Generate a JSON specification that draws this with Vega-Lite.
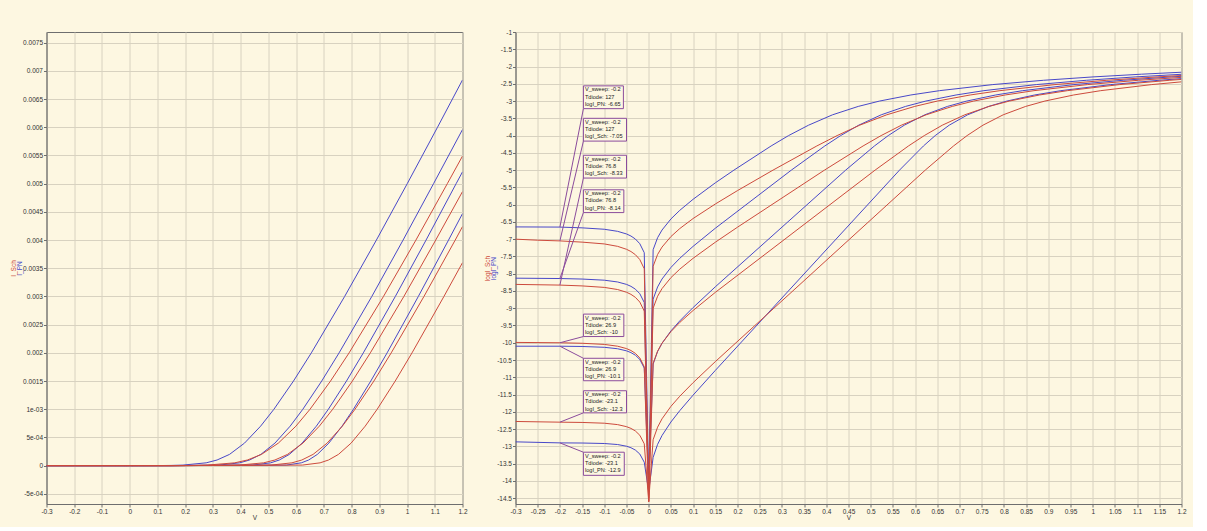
{
  "$schema": "https://vega.github.io/schema/vega-lite/v6.json",
  "background": "#fdf7e1",
  "padding": {"left": 9.5, "top": 28, "right": 5, "bottom": 5},
  "config": {
    "view": {"stroke": "#6e6e6e", "strokeWidth": 1},
    "font": "Liberation Sans",
    "axis": {"labelFont": "Liberation Sans", "labelFontSize": 6.5, "labelColor": "#333333", "gridColor": "#d8d2c0", "gridOpacity": 1, "gridWidth": 1, "domainColor": "#6e6e6e", "tickColor": "#6e6e6e", "tickSize": 3, "labelPadding": 1, "titleFont": "Liberation Sans", "titleFontSize": 6.5, "titleFontWeight": "normal", "titleColor": "#333333", "labelOverlap": false, "labelFlush": false, "titlePadding": 0}
  },
  "datasets": {
    "curves": [
      {"c":"PN127","s":"PN","V":-0.3,"L":-6.645,"I":-2.3e-7},
      {"c":"PN127","s":"PN","V":-0.2,"L":-6.65,"I":-2.2e-7},
      {"c":"PN127","s":"PN","V":-0.15,"L":-6.672,"I":-2.1e-7},
      {"c":"PN127","s":"PN","V":-0.1,"L":-6.713,"I":-1.9e-7},
      {"c":"PN127","s":"PN","V":-0.07,"L":-6.773,"I":-1.7e-7},
      {"c":"PN127","s":"PN","V":-0.05,"L":-6.849,"I":-1.4e-7},
      {"c":"PN127","s":"PN","V":-0.04,"L":-6.909,"I":-1.2e-7},
      {"c":"PN127","s":"PN","V":-0.03,"L":-6.996,"I":-1.0e-7},
      {"c":"PN127","s":"PN","V":-0.02,"L":-7.132,"I":-7.4e-8},
      {"c":"PN127","s":"PN","V":-0.01,"L":-7.392,"I":-4.1e-8},
      {"c":"PN127","s":"PN","V":0,"L":-14.2,"I":0},
      {"c":"PN127","s":"PN","V":0.01,"L":-7.305,"I":5.0e-8},
      {"c":"PN127","s":"PN","V":0.02,"L":-6.958,"I":1.1e-7},
      {"c":"PN127","s":"PN","V":0.03,"L":-6.735,"I":1.8e-7},
      {"c":"PN127","s":"PN","V":0.05,"L":-6.415,"I":3.8e-7},
      {"c":"PN127","s":"PN","V":0.07,"L":-6.165,"I":6.8e-7},
      {"c":"PN127","s":"PN","V":0.1,"L":-5.845,"I":1.4e-6},
      {"c":"PN127","s":"PN","V":0.15,"L":-5.369,"I":4.3e-6},
      {"c":"PN127","s":"PN","V":0.192,"L":-5,"I":1e-5},
      {"c":"PN127","s":"PN","V":0.2757,"L":-4.301,"I":5e-5},
      {"c":"PN127","s":"PN","V":0.315,"L":-4,"I":1e-4},
      {"c":"PN127","s":"PN","V":0.36,"L":-3.699,"I":2e-4},
      {"c":"PN127","s":"PN","V":0.414,"L":-3.398,"I":4e-4},
      {"c":"PN127","s":"PN","V":0.472,"L":-3.155,"I":7e-4},
      {"c":"PN127","s":"PN","V":0.52,"L":-3,"I":1e-3},
      {"c":"PN127","s":"PN","V":0.5905,"L":-2.824,"I":1.5e-3},
      {"c":"PN127","s":"PN","V":0.655,"L":-2.699,"I":2e-3},
      {"c":"PN127","s":"PN","V":0.775,"L":-2.523,"I":3e-3},
      {"c":"PN127","s":"PN","V":0.8895,"L":-2.398,"I":4e-3},
      {"c":"PN127","s":"PN","V":1.0007,"L":-2.301,"I":5e-3},
      {"c":"PN127","s":"PN","V":1.1098,"L":-2.222,"I":6e-3},
      {"c":"PN127","s":"PN","V":1.2,"L":-2.165,"I":6.84e-3},

      {"c":"Sch127","s":"Sch","V":-0.3,"L":-7.0,"I":-1.0e-7},
      {"c":"Sch127","s":"Sch","V":-0.25,"L":-7.03,"I":-9.3e-8},
      {"c":"Sch127","s":"Sch","V":-0.2,"L":-7.05,"I":-8.9e-8},
      {"c":"Sch127","s":"Sch","V":-0.15,"L":-7.086,"I":-8.2e-8},
      {"c":"Sch127","s":"Sch","V":-0.1,"L":-7.138,"I":-7.3e-8},
      {"c":"Sch127","s":"Sch","V":-0.07,"L":-7.208,"I":-6.2e-8},
      {"c":"Sch127","s":"Sch","V":-0.05,"L":-7.293,"I":-5.1e-8},
      {"c":"Sch127","s":"Sch","V":-0.04,"L":-7.358,"I":-4.4e-8},
      {"c":"Sch127","s":"Sch","V":-0.03,"L":-7.449,"I":-3.6e-8},
      {"c":"Sch127","s":"Sch","V":-0.02,"L":-7.591,"I":-2.6e-8},
      {"c":"Sch127","s":"Sch","V":-0.01,"L":-7.857,"I":-1.4e-8},
      {"c":"Sch127","s":"Sch","V":0,"L":-14.6,"I":0},
      {"c":"Sch127","s":"Sch","V":0.01,"L":-7.784,"I":1.6e-8},
      {"c":"Sch127","s":"Sch","V":0.02,"L":-7.444,"I":3.6e-8},
      {"c":"Sch127","s":"Sch","V":0.03,"L":-7.229,"I":5.9e-8},
      {"c":"Sch127","s":"Sch","V":0.05,"L":-6.925,"I":1.2e-7},
      {"c":"Sch127","s":"Sch","V":0.07,"L":-6.693,"I":2.0e-7},
      {"c":"Sch127","s":"Sch","V":0.1,"L":-6.402,"I":4.0e-7},
      {"c":"Sch127","s":"Sch","V":0.15,"L":-5.982,"I":1.0e-6},
      {"c":"Sch127","s":"Sch","V":0.2,"L":-5.593,"I":2.6e-6},
      {"c":"Sch127","s":"Sch","V":0.28,"L":-5,"I":1e-5},
      {"c":"Sch127","s":"Sch","V":0.3786,"L":-4.301,"I":5e-5},
      {"c":"Sch127","s":"Sch","V":0.4244,"L":-4,"I":1e-4},
      {"c":"Sch127","s":"Sch","V":0.4752,"L":-3.699,"I":2e-4},
      {"c":"Sch127","s":"Sch","V":0.5361,"L":-3.398,"I":4e-4},
      {"c":"Sch127","s":"Sch","V":0.5992,"L":-3.155,"I":7e-4},
      {"c":"Sch127","s":"Sch","V":0.6502,"L":-3,"I":1e-3},
      {"c":"Sch127","s":"Sch","V":0.7241,"L":-2.824,"I":1.5e-3},
      {"c":"Sch127","s":"Sch","V":0.7911,"L":-2.699,"I":2e-3},
      {"c":"Sch127","s":"Sch","V":0.915,"L":-2.523,"I":3e-3},
      {"c":"Sch127","s":"Sch","V":1.032,"L":-2.398,"I":4e-3},
      {"c":"Sch127","s":"Sch","V":1.1452,"L":-2.301,"I":5e-3},
      {"c":"Sch127","s":"Sch","V":1.2,"L":-2.2604,"I":5.49e-3},

      {"c":"PN76.8","s":"PN","V":-0.3,"L":-8.13,"I":-7.4e-9},
      {"c":"PN76.8","s":"PN","V":-0.2,"L":-8.14,"I":-7.2e-9},
      {"c":"PN76.8","s":"PN","V":-0.15,"L":-8.155,"I":-7.0e-9},
      {"c":"PN76.8","s":"PN","V":-0.1,"L":-8.188,"I":-6.5e-9},
      {"c":"PN76.8","s":"PN","V":-0.07,"L":-8.24,"I":-5.8e-9},
      {"c":"PN76.8","s":"PN","V":-0.05,"L":-8.31,"I":-4.9e-9},
      {"c":"PN76.8","s":"PN","V":-0.04,"L":-8.366,"I":-4.3e-9},
      {"c":"PN76.8","s":"PN","V":-0.03,"L":-8.448,"I":-3.6e-9},
      {"c":"PN76.8","s":"PN","V":-0.02,"L":-8.58,"I":-2.6e-9},
      {"c":"PN76.8","s":"PN","V":-0.01,"L":-8.835,"I":-1.5e-9},
      {"c":"PN76.8","s":"PN","V":0,"L":-14.3,"I":0},
      {"c":"PN76.8","s":"PN","V":0.01,"L":-8.737,"I":1.8e-9},
      {"c":"PN76.8","s":"PN","V":0.02,"L":-8.384,"I":4.1e-9},
      {"c":"PN76.8","s":"PN","V":0.03,"L":-8.154,"I":7.0e-9},
      {"c":"PN76.8","s":"PN","V":0.05,"L":-7.82,"I":1.5e-8},
      {"c":"PN76.8","s":"PN","V":0.07,"L":-7.554,"I":2.8e-8},
      {"c":"PN76.8","s":"PN","V":0.1,"L":-7.208,"I":6.2e-8},
      {"c":"PN76.8","s":"PN","V":0.15,"L":-6.684,"I":2.1e-7},
      {"c":"PN76.8","s":"PN","V":0.3213,"L":-5,"I":1e-5},
      {"c":"PN76.8","s":"PN","V":0.3966,"L":-4.301,"I":5e-5},
      {"c":"PN76.8","s":"PN","V":0.4323,"L":-4,"I":1e-4},
      {"c":"PN76.8","s":"PN","V":0.473,"L":-3.699,"I":2e-4},
      {"c":"PN76.8","s":"PN","V":0.5237,"L":-3.398,"I":4e-4},
      {"c":"PN76.8","s":"PN","V":0.5785,"L":-3.155,"I":7e-4},
      {"c":"PN76.8","s":"PN","V":0.6243,"L":-3,"I":1e-3},
      {"c":"PN76.8","s":"PN","V":0.6923,"L":-2.824,"I":1.5e-3},
      {"c":"PN76.8","s":"PN","V":0.755,"L":-2.699,"I":2e-3},
      {"c":"PN76.8","s":"PN","V":0.873,"L":-2.523,"I":3e-3},
      {"c":"PN76.8","s":"PN","V":0.9857,"L":-2.398,"I":4e-3},
      {"c":"PN76.8","s":"PN","V":1.0956,"L":-2.301,"I":5e-3},
      {"c":"PN76.8","s":"PN","V":1.2,"L":-2.2248,"I":5.96e-3},

      {"c":"Sch76.8","s":"Sch","V":-0.3,"L":-8.31,"I":-4.9e-9},
      {"c":"Sch76.8","s":"Sch","V":-0.2,"L":-8.33,"I":-4.7e-9},
      {"c":"Sch76.8","s":"Sch","V":-0.15,"L":-8.354,"I":-4.4e-9},
      {"c":"Sch76.8","s":"Sch","V":-0.1,"L":-8.397,"I":-4.0e-9},
      {"c":"Sch76.8","s":"Sch","V":-0.07,"L":-8.459,"I":-3.5e-9},
      {"c":"Sch76.8","s":"Sch","V":-0.05,"L":-8.537,"I":-2.9e-9},
      {"c":"Sch76.8","s":"Sch","V":-0.04,"L":-8.598,"I":-2.5e-9},
      {"c":"Sch76.8","s":"Sch","V":-0.03,"L":-8.685,"I":-2.1e-9},
      {"c":"Sch76.8","s":"Sch","V":-0.02,"L":-8.822,"I":-1.5e-9},
      {"c":"Sch76.8","s":"Sch","V":-0.01,"L":-9.083,"I":-8.3e-10},
      {"c":"Sch76.8","s":"Sch","V":0,"L":-14.5,"I":0},
      {"c":"Sch76.8","s":"Sch","V":0.01,"L":-8.999,"I":1.0e-9},
      {"c":"Sch76.8","s":"Sch","V":0.02,"L":-8.654,"I":2.2e-9},
      {"c":"Sch76.8","s":"Sch","V":0.03,"L":-8.432,"I":3.7e-9},
      {"c":"Sch76.8","s":"Sch","V":0.05,"L":-8.115,"I":7.7e-9},
      {"c":"Sch76.8","s":"Sch","V":0.07,"L":-7.869,"I":1.4e-8},
      {"c":"Sch76.8","s":"Sch","V":0.1,"L":-7.554,"I":2.8e-8},
      {"c":"Sch76.8","s":"Sch","V":0.15,"L":-7.089,"I":8.1e-8},
      {"c":"Sch76.8","s":"Sch","V":0.2,"L":-6.653,"I":2.2e-7},
      {"c":"Sch76.8","s":"Sch","V":0.3959,"L":-5,"I":1e-5},
      {"c":"Sch76.8","s":"Sch","V":0.4828,"L":-4.301,"I":5e-5},
      {"c":"Sch76.8","s":"Sch","V":0.5235,"L":-4,"I":1e-4},
      {"c":"Sch76.8","s":"Sch","V":0.5691,"L":-3.699,"I":2e-4},
      {"c":"Sch76.8","s":"Sch","V":0.6248,"L":-3.398,"I":4e-4},
      {"c":"Sch76.8","s":"Sch","V":0.6837,"L":-3.155,"I":7e-4},
      {"c":"Sch76.8","s":"Sch","V":0.732,"L":-3,"I":1e-3},
      {"c":"Sch76.8","s":"Sch","V":0.8029,"L":-2.824,"I":1.5e-3},
      {"c":"Sch76.8","s":"Sch","V":0.8677,"L":-2.699,"I":2e-3},
      {"c":"Sch76.8","s":"Sch","V":0.9886,"L":-2.523,"I":3e-3},
      {"c":"Sch76.8","s":"Sch","V":1.1034,"L":-2.398,"I":4e-3},
      {"c":"Sch76.8","s":"Sch","V":1.2,"L":-2.3137,"I":4.86e-3},

      {"c":"PN26.9","s":"PN","V":-0.3,"L":-10.1,"I":-7.9e-11},
      {"c":"PN26.9","s":"PN","V":-0.2,"L":-10.1,"I":-7.9e-11},
      {"c":"PN26.9","s":"PN","V":-0.15,"L":-10.108,"I":-7.8e-11},
      {"c":"PN26.9","s":"PN","V":-0.1,"L":-10.132,"I":-7.4e-11},
      {"c":"PN26.9","s":"PN","V":-0.07,"L":-10.174,"I":-6.7e-11},
      {"c":"PN26.9","s":"PN","V":-0.05,"L":-10.234,"I":-5.8e-11},
      {"c":"PN26.9","s":"PN","V":-0.04,"L":-10.285,"I":-5.2e-11},
      {"c":"PN26.9","s":"PN","V":-0.03,"L":-10.361,"I":-4.4e-11},
      {"c":"PN26.9","s":"PN","V":-0.02,"L":-10.485,"I":-3.3e-11},
      {"c":"PN26.9","s":"PN","V":-0.01,"L":-10.733,"I":-1.8e-11},
      {"c":"PN26.9","s":"PN","V":0,"L":-14.1,"I":0},
      {"c":"PN26.9","s":"PN","V":0.01,"L":-10.617,"I":2.4e-11},
      {"c":"PN26.9","s":"PN","V":0.02,"L":-10.255,"I":5.6e-11},
      {"c":"PN26.9","s":"PN","V":0.03,"L":-10.015,"I":9.7e-11},
      {"c":"PN26.9","s":"PN","V":0.05,"L":-9.658,"I":2.2e-10},
      {"c":"PN26.9","s":"PN","V":0.07,"L":-9.367,"I":4.3e-10},
      {"c":"PN26.9","s":"PN","V":0.1,"L":-8.98,"I":1.0e-9},
      {"c":"PN26.9","s":"PN","V":0.15,"L":-8.38,"I":4.2e-9},
      {"c":"PN26.9","s":"PN","V":0.4437,"L":-5,"I":1e-5},
      {"c":"PN26.9","s":"PN","V":0.5084,"L":-4.301,"I":5e-5},
      {"c":"PN26.9","s":"PN","V":0.5395,"L":-4,"I":1e-4},
      {"c":"PN26.9","s":"PN","V":0.5757,"L":-3.699,"I":2e-4},
      {"c":"PN26.9","s":"PN","V":0.6218,"L":-3.398,"I":4e-4},
      {"c":"PN26.9","s":"PN","V":0.6729,"L":-3.155,"I":7e-4},
      {"c":"PN26.9","s":"PN","V":0.7163,"L":-3,"I":1e-3},
      {"c":"PN26.9","s":"PN","V":0.7816,"L":-2.824,"I":1.5e-3},
      {"c":"PN26.9","s":"PN","V":0.8424,"L":-2.699,"I":2e-3},
      {"c":"PN26.9","s":"PN","V":0.9577,"L":-2.523,"I":3e-3},
      {"c":"PN26.9","s":"PN","V":1.0686,"L":-2.398,"I":4e-3},
      {"c":"PN26.9","s":"PN","V":1.177,"L":-2.301,"I":5e-3},
      {"c":"PN26.9","s":"PN","V":1.2,"L":-2.2829,"I":5.21e-3},

      {"c":"Sch26.9","s":"Sch","V":-0.3,"L":-9.99,"I":-1.0e-10},
      {"c":"Sch26.9","s":"Sch","V":-0.2,"L":-10.0,"I":-1.0e-10},
      {"c":"Sch26.9","s":"Sch","V":-0.15,"L":-10.015,"I":-9.7e-11},
      {"c":"Sch26.9","s":"Sch","V":-0.1,"L":-10.048,"I":-9.0e-11},
      {"c":"Sch26.9","s":"Sch","V":-0.07,"L":-10.1,"I":-7.9e-11},
      {"c":"Sch26.9","s":"Sch","V":-0.05,"L":-10.169,"I":-6.8e-11},
      {"c":"Sch26.9","s":"Sch","V":-0.04,"L":-10.225,"I":-6.0e-11},
      {"c":"Sch26.9","s":"Sch","V":-0.03,"L":-10.307,"I":-4.9e-11},
      {"c":"Sch26.9","s":"Sch","V":-0.02,"L":-10.439,"I":-3.6e-11},
      {"c":"Sch26.9","s":"Sch","V":-0.01,"L":-10.694,"I":-2.0e-11},
      {"c":"Sch26.9","s":"Sch","V":0,"L":-14.6,"I":0},
      {"c":"Sch26.9","s":"Sch","V":0.01,"L":-10.596,"I":2.5e-11},
      {"c":"Sch26.9","s":"Sch","V":0.02,"L":-10.243,"I":5.7e-11},
      {"c":"Sch26.9","s":"Sch","V":0.03,"L":-10.013,"I":9.7e-11},
      {"c":"Sch26.9","s":"Sch","V":0.05,"L":-9.678,"I":2.1e-10},
      {"c":"Sch26.9","s":"Sch","V":0.07,"L":-9.412,"I":3.9e-10},
      {"c":"Sch26.9","s":"Sch","V":0.1,"L":-9.065,"I":8.6e-10},
      {"c":"Sch26.9","s":"Sch","V":0.15,"L":-8.541,"I":2.9e-9},
      {"c":"Sch26.9","s":"Sch","V":0.5099,"L":-5,"I":1e-5},
      {"c":"Sch26.9","s":"Sch","V":0.585,"L":-4.301,"I":5e-5},
      {"c":"Sch26.9","s":"Sch","V":0.6207,"L":-4,"I":1e-4},
      {"c":"Sch26.9","s":"Sch","V":0.6613,"L":-3.699,"I":2e-4},
      {"c":"Sch26.9","s":"Sch","V":0.7119,"L":-3.398,"I":4e-4},
      {"c":"Sch26.9","s":"Sch","V":0.7667,"L":-3.155,"I":7e-4},
      {"c":"Sch26.9","s":"Sch","V":0.8124,"L":-3,"I":1e-3},
      {"c":"Sch26.9","s":"Sch","V":0.8804,"L":-2.824,"I":1.5e-3},
      {"c":"Sch26.9","s":"Sch","V":0.943,"L":-2.699,"I":2e-3},
      {"c":"Sch26.9","s":"Sch","V":1.061,"L":-2.523,"I":3e-3},
      {"c":"Sch26.9","s":"Sch","V":1.1737,"L":-2.398,"I":4e-3},
      {"c":"Sch26.9","s":"Sch","V":1.2,"L":-2.373,"I":4.24e-3},

      {"c":"PN-23.1","s":"PN","V":-0.3,"L":-12.87,"I":-1.3e-13},
      {"c":"PN-23.1","s":"PN","V":-0.2,"L":-12.9,"I":-1.3e-13},
      {"c":"PN-23.1","s":"PN","V":-0.15,"L":-12.904,"I":-1.2e-13},
      {"c":"PN-23.1","s":"PN","V":-0.1,"L":-12.918,"I":-1.2e-13},
      {"c":"PN-23.1","s":"PN","V":-0.07,"L":-12.948,"I":-1.1e-13},
      {"c":"PN-23.1","s":"PN","V":-0.05,"L":-12.997,"I":-1.0e-13},
      {"c":"PN-23.1","s":"PN","V":-0.04,"L":-13.04,"I":-9.1e-14},
      {"c":"PN-23.1","s":"PN","V":-0.03,"L":-13.108,"I":-7.8e-14},
      {"c":"PN-23.1","s":"PN","V":-0.02,"L":-13.223,"I":-6.0e-14},
      {"c":"PN-23.1","s":"PN","V":-0.01,"L":-13.46,"I":-3.5e-14},
      {"c":"PN-23.1","s":"PN","V":0,"L":-14.3,"I":0},
      {"c":"PN-23.1","s":"PN","V":0.01,"L":-13.319,"I":4.8e-14},
      {"c":"PN-23.1","s":"PN","V":0.02,"L":-12.943,"I":1.1e-13},
      {"c":"PN-23.1","s":"PN","V":0.03,"L":-12.687,"I":2.1e-13},
      {"c":"PN-23.1","s":"PN","V":0.05,"L":-12.296,"I":5.1e-13},
      {"c":"PN-23.1","s":"PN","V":0.07,"L":-11.967,"I":1.1e-12},
      {"c":"PN-23.1","s":"PN","V":0.1,"L":-11.517,"I":3.0e-12},
      {"c":"PN-23.1","s":"PN","V":0.15,"L":-10.802,"I":1.6e-11},
      {"c":"PN-23.1","s":"PN","V":0.5649,"L":-5,"I":1e-5},
      {"c":"PN-23.1","s":"PN","V":0.6188,"L":-4.301,"I":5e-5},
      {"c":"PN-23.1","s":"PN","V":0.6453,"L":-4,"I":1e-4},
      {"c":"PN-23.1","s":"PN","V":0.6768,"L":-3.699,"I":2e-4},
      {"c":"PN-23.1","s":"PN","V":0.7182,"L":-3.398,"I":4e-4},
      {"c":"PN-23.1","s":"PN","V":0.7656,"L":-3.155,"I":7e-4},
      {"c":"PN-23.1","s":"PN","V":0.8067,"L":-3,"I":1e-3},
      {"c":"PN-23.1","s":"PN","V":0.8692,"L":-2.824,"I":1.5e-3},
      {"c":"PN-23.1","s":"PN","V":0.9282,"L":-2.699,"I":2e-3},
      {"c":"PN-23.1","s":"PN","V":1.0407,"L":-2.523,"I":3e-3},
      {"c":"PN-23.1","s":"PN","V":1.1496,"L":-2.398,"I":4e-3},
      {"c":"PN-23.1","s":"PN","V":1.2,"L":-2.35,"I":4.47e-3},

      {"c":"Sch-23.1","s":"Sch","V":-0.3,"L":-12.28,"I":-5.2e-13},
      {"c":"Sch-23.1","s":"Sch","V":-0.2,"L":-12.3,"I":-5.0e-13},
      {"c":"Sch-23.1","s":"Sch","V":-0.15,"L":-12.308,"I":-4.9e-13},
      {"c":"Sch-23.1","s":"Sch","V":-0.1,"L":-12.33,"I":-4.7e-13},
      {"c":"Sch-23.1","s":"Sch","V":-0.07,"L":-12.371,"I":-4.3e-13},
      {"c":"Sch-23.1","s":"Sch","V":-0.05,"L":-12.43,"I":-3.7e-13},
      {"c":"Sch-23.1","s":"Sch","V":-0.04,"L":-12.48,"I":-3.3e-13},
      {"c":"Sch-23.1","s":"Sch","V":-0.03,"L":-12.555,"I":-2.8e-13},
      {"c":"Sch-23.1","s":"Sch","V":-0.02,"L":-12.679,"I":-2.1e-13},
      {"c":"Sch-23.1","s":"Sch","V":-0.01,"L":-12.926,"I":-1.2e-13},
      {"c":"Sch-23.1","s":"Sch","V":0,"L":-14.6,"I":0},
      {"c":"Sch-23.1","s":"Sch","V":0.01,"L":-12.808,"I":1.6e-13},
      {"c":"Sch-23.1","s":"Sch","V":0.02,"L":-12.445,"I":3.6e-13},
      {"c":"Sch-23.1","s":"Sch","V":0.03,"L":-12.203,"I":6.3e-13},
      {"c":"Sch-23.1","s":"Sch","V":0.05,"L":-11.843,"I":1.4e-12},
      {"c":"Sch-23.1","s":"Sch","V":0.07,"L":-11.549,"I":2.8e-12},
      {"c":"Sch-23.1","s":"Sch","V":0.1,"L":-11.156,"I":7.0e-12},
      {"c":"Sch-23.1","s":"Sch","V":0.15,"L":-10.547,"I":2.8e-11},
      {"c":"Sch-23.1","s":"Sch","V":0.6229,"L":-5,"I":1e-5},
      {"c":"Sch-23.1","s":"Sch","V":0.6865,"L":-4.301,"I":5e-5},
      {"c":"Sch-23.1","s":"Sch","V":0.7171,"L":-4,"I":1e-4},
      {"c":"Sch-23.1","s":"Sch","V":0.7528,"L":-3.699,"I":2e-4},
      {"c":"Sch-23.1","s":"Sch","V":0.7984,"L":-3.398,"I":4e-4},
      {"c":"Sch-23.1","s":"Sch","V":0.8491,"L":-3.155,"I":7e-4},
      {"c":"Sch-23.1","s":"Sch","V":0.8923,"L":-3,"I":1e-3},
      {"c":"Sch-23.1","s":"Sch","V":0.9573,"L":-2.824,"I":1.5e-3},
      {"c":"Sch-23.1","s":"Sch","V":1.018,"L":-2.699,"I":2e-3},
      {"c":"Sch-23.1","s":"Sch","V":1.133,"L":-2.523,"I":3e-3},
      {"c":"Sch-23.1","s":"Sch","V":1.2,"L":-2.4434,"I":3.6e-3}
    ],
    "notes": [
      {"t":"V_sweep: -0.2\nTdiode: 127\nlogI_PN: -6.65","bx":-0.147,"bx2":-0.057,"yt":-2.56,"yb":-3.22,"px":-0.2,"py":-6.65,"cy":-3.22},
      {"t":"V_sweep: -0.2\nTdiode: 127\nlogI_Sch: -7.05","bx":-0.147,"bx2":-0.05,"yt":-3.5,"yb":-4.16,"px":-0.2,"py":-7.05,"cy":-4.16},
      {"t":"V_sweep: -0.2\nTdiode: 76.8\nlogI_Sch: -8.33","bx":-0.147,"bx2":-0.05,"yt":-4.57,"yb":-5.23,"px":-0.2,"py":-8.33,"cy":-5.23},
      {"t":"V_sweep: -0.2\nTdiode: 76.8\nlogI_PN: -8.14","bx":-0.147,"bx2":-0.056,"yt":-5.57,"yb":-6.23,"px":-0.2,"py":-8.14,"cy":-6.23},
      {"t":"V_sweep: -0.2\nTdiode: 26.9\nlogI_Sch: -10","bx":-0.147,"bx2":-0.056,"yt":-9.17,"yb":-9.82,"px":-0.2,"py":-10,"cy":-9.82},
      {"t":"V_sweep: -0.2\nTdiode: 26.9\nlogI_PN: -10.1","bx":-0.147,"bx2":-0.056,"yt":-10.45,"yb":-11.1,"px":-0.2,"py":-10.1,"cy":-10.45},
      {"t":"V_sweep: -0.2\nTdiode: -23.1\nlogI_Sch: -12.3","bx":-0.147,"bx2":-0.05,"yt":-11.39,"yb":-12.03,"px":-0.2,"py":-12.3,"cy":-12.03},
      {"t":"V_sweep: -0.2\nTdiode: -23.1\nlogI_PN: -12.9","bx":-0.147,"bx2":-0.055,"yt":-13.17,"yb":-13.84,"px":-0.2,"py":-12.9,"cy":-13.17}
    ]
  },
  "bounds": "flush",
  "spacing": 53,
  "hconcat": [
    {
      "width": 416,
      "height": 472,
      "data": {"name": "curves"},
      "layer": [
        {
          "transform": [{"filter": "datum.s === 'PN'"}],
          "mark": {"type": "line", "color": "#4848c8", "strokeWidth": 1, "clip": true},
          "encoding": {
            "x": {"field": "V", "type": "quantitative", "scale": {"domain": [-0.3, 1.2], "nice": false, "zero": false},
                  "axis": {"title": "V", "values": [-0.3,-0.2,-0.1,0,0.1,0.2,0.3,0.4,0.5,0.6,0.7,0.8,0.9,1,1.1,1.2], "labelExpr": "'' + datum.value"}},
            "y": {"field": "I", "type": "quantitative", "scale": {"domain": [-0.00068, 0.00769], "nice": false, "zero": false},
                  "axis": {"title": "I_PN", "titleColor": "#4848c8", "minExtent": 24, "maxExtent": 24, "titlePadding": 0,
                           "values": [0.0075,0.007,0.0065,0.006,0.0055,0.005,0.0045,0.004,0.0035,0.003,0.0025,0.002,0.0015,0.001,0.0005,0,-0.0005],
                           "labelExpr": "abs(datum.value-0.001)<1e-9 ? '1e-03' : abs(datum.value-0.0005)<1e-9 ? '5e-04' : abs(datum.value+0.0005)<1e-9 ? '-5e-04' : '' + datum.value"}},
            "detail": {"field": "c"}
          }
        },
        {
          "transform": [{"filter": "datum.s === 'Sch'"}],
          "mark": {"type": "line", "color": "#cc4a3c", "strokeWidth": 1, "clip": true},
          "encoding": {
            "x": {"field": "V", "type": "quantitative", "scale": {"domain": [-0.3, 1.2], "nice": false, "zero": false},
                  "axis": {"title": "V", "values": [-0.3,-0.2,-0.1,0,0.1,0.2,0.3,0.4,0.5,0.6,0.7,0.8,0.9,1,1.1,1.2], "labelExpr": "'' + datum.value"}},
            "y": {"field": "I", "type": "quantitative",
                  "axis": {"orient": "left", "title": "I_Sch", "titleColor": "#cc4a3c", "labels": false, "ticks": false, "domain": false, "grid": false, "minExtent": 0, "maxExtent": 0, "titlePadding": 30}},
            "detail": {"field": "c"}
          }
        }
      ],
      "resolve": {"axis": {"y": "independent"}}
    },
    {
      "width": 666,
      "height": 472,
      "layer": [
        {
          "data": {"name": "curves"},
          "transform": [{"filter": "datum.s === 'PN'"}],
          "mark": {"type": "line", "color": "#4848c8", "strokeWidth": 1, "clip": true},
          "encoding": {
            "x": {"field": "V", "type": "quantitative", "scale": {"domain": [-0.3, 1.2], "nice": false, "zero": false},
                  "axis": {"title": "V", "values": [-0.3,-0.25,-0.2,-0.15,-0.1,-0.05,0,0.05,0.1,0.15,0.2,0.25,0.3,0.35,0.4,0.45,0.5,0.55,0.6,0.65,0.7,0.75,0.8,0.85,0.9,0.95,1,1.05,1.1,1.15,1.2], "labelExpr": "'' + datum.value"}},
            "y": {"field": "L", "type": "quantitative", "scale": {"domain": [-14.67, -1], "nice": false, "zero": false},
                  "axis": {"title": "logI_PN", "titleColor": "#4848c8", "minExtent": 19, "maxExtent": 19, "titlePadding": 0,
                           "values": [-1,-1.5,-2,-2.5,-3,-3.5,-4,-4.5,-5,-5.5,-6,-6.5,-7,-7.5,-8,-8.5,-9,-9.5,-10,-10.5,-11,-11.5,-12,-12.5,-13,-13.5,-14,-14.5],
                           "labelExpr": "'' + datum.value"}},
            "detail": {"field": "c"}
          }
        },
        {
          "data": {"name": "curves"},
          "transform": [{"filter": "datum.s === 'Sch'"}],
          "mark": {"type": "line", "color": "#cc4a3c", "strokeWidth": 1, "clip": true},
          "encoding": {
            "x": {"field": "V", "type": "quantitative", "scale": {"domain": [-0.3, 1.2], "nice": false, "zero": false},
                  "axis": {"title": "V", "values": [-0.3,-0.25,-0.2,-0.15,-0.1,-0.05,0,0.05,0.1,0.15,0.2,0.25,0.3,0.35,0.4,0.45,0.5,0.55,0.6,0.65,0.7,0.75,0.8,0.85,0.9,0.95,1,1.05,1.1,1.15,1.2], "labelExpr": "'' + datum.value"}},
            "y": {"field": "L", "type": "quantitative",
                  "axis": {"orient": "left", "title": "logI_Sch", "titleColor": "#cc4a3c", "labels": false, "ticks": false, "domain": false, "grid": false, "minExtent": 0, "maxExtent": 0, "titlePadding": 25}},
            "detail": {"field": "c"}
          }
        },
        {
          "data": {"name": "notes"},
          "mark": {"type": "rule", "color": "#8b4c9c", "strokeWidth": 1},
          "encoding": {
            "x": {"field": "px", "type": "quantitative",
                  "axis": {"title": "V", "values": [-0.3,-0.25,-0.2,-0.15,-0.1,-0.05,0,0.05,0.1,0.15,0.2,0.25,0.3,0.35,0.4,0.45,0.5,0.55,0.6,0.65,0.7,0.75,0.8,0.85,0.9,0.95,1,1.05,1.1,1.15,1.2], "labelExpr": "'' + datum.value"}},
            "y": {"field": "py", "type": "quantitative", "axis": null},
            "x2": {"field": "bx"},
            "y2": {"field": "cy"}
          }
        },
        {
          "data": {"name": "notes"},
          "mark": {"type": "rect", "fill": "#fdf7e1", "stroke": "#8b4c9c", "strokeWidth": 1},
          "encoding": {
            "x": {"field": "bx", "type": "quantitative",
                  "axis": {"title": "V", "values": [-0.3,-0.25,-0.2,-0.15,-0.1,-0.05,0,0.05,0.1,0.15,0.2,0.25,0.3,0.35,0.4,0.45,0.5,0.55,0.6,0.65,0.7,0.75,0.8,0.85,0.9,0.95,1,1.05,1.1,1.15,1.2], "labelExpr": "'' + datum.value"}},
            "x2": {"field": "bx2"},
            "y": {"field": "yt", "type": "quantitative", "axis": null},
            "y2": {"field": "yb"}
          }
        },
        {
          "data": {"name": "notes"},
          "mark": {"type": "text", "align": "left", "baseline": "top", "dx": 1.5, "dy": 1.5, "fontSize": 5.6, "lineHeight": 7.2, "lineBreak": "\n", "font": "Liberation Sans", "color": "#222222"},
          "encoding": {
            "x": {"field": "bx", "type": "quantitative",
                  "axis": {"title": "V", "values": [-0.3,-0.25,-0.2,-0.15,-0.1,-0.05,0,0.05,0.1,0.15,0.2,0.25,0.3,0.35,0.4,0.45,0.5,0.55,0.6,0.65,0.7,0.75,0.8,0.85,0.9,0.95,1,1.05,1.1,1.15,1.2], "labelExpr": "'' + datum.value"}},
            "y": {"field": "yt", "type": "quantitative", "axis": null},
            "text": {"field": "t", "type": "nominal"}
          }
        }
      ],
      "resolve": {"axis": {"y": "independent"}}
    }
  ]
}
